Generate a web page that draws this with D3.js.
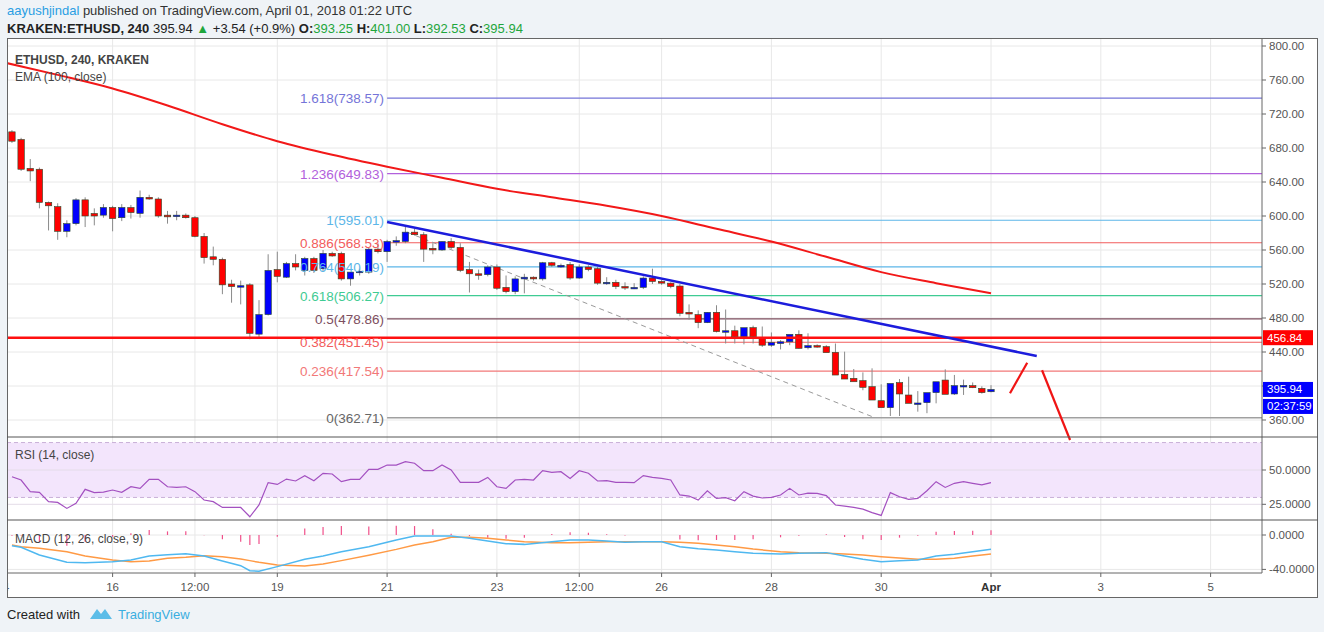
<!DOCTYPE html>
<html>
<head>
<meta charset="utf-8">
<script src="https://cdn.jsdelivr.net/npm/d3@7"></script>
<style>
  body { margin: 0; background: #eff3f7; font-family: "Liberation Sans", Arial, sans-serif; }
</style>
</head>
<body>
<div id="chart"></div>
<script>
// candles, 4h, first one is Mar 14 04:00 UTC, last is Apr 1 00:00 UTC
const opens = [699,690,656,655,616,611,582,591,619,603,601,610,598,610,603,622,620,601,600,601,598,576,552,549,520,518,519,461,484,537,528,544,536,550,538,556,
  556,526,534,534,561,558,570,570,581,578,562,560,570,563,537,532,531,540,516,511,526,528,526,545,540,543,527,540,538,522,522,517,516,516,527,523,
  521,517.6,486.7,484,474.5,486.7,465,465,458,468.6,457,448,450,452,460.8,445,447.5,446.3,439.6,413.7,409,406.3,399.2,382.7,374.5,404,389.4,379.6,380.4,392.2,407,390.6,400.4,400.4,397.2,393.25];
const highs = [701,692,667,657,617,615,595,621,622,609,614,612,614,613,630,625,622,606,606,603,600,580,564,551,525,524,521,501,555,558,546,555,552,552,560,558,
  558,534,538,563,568,572,576,589,585,581,568,570,574,568,546,537,542,543,530,529,532,529,546,546,544,546,543,542,540,528,525,522,521,529,538,525,
  522,520,496,489,487,495,490,471,465,471,470,463,454,454,465.5,462,449,448,450,440.4,420,416,420.8,402,384.8,408.2,411,394,389.4,392.2,419.6,413,407.5,404.2,399.6,401];
const lows = [686,653,641,609,583,572,575,589,587,589,598,582,594,597,598,619,598,591,595,597,575,544,542,508,498,496,455,457,483,522,527,536,530,533,535,552,
  524,518,530,532,556,546,565,568,577,546,555,559,561,534,510,525,529,513,509,508,509,524,524,540,539,525,526,535,519,519,514,513,514,514,520,519,
  515,482,478,468,474,463,450,450,449,450,446,446,443,448,444,443,445,443,438,411,406,395,398,382,364.7,364.7,389.5,369.8,368,379.6,391.4,389.5,389.5,397.5,391,392.53];
const closes = [688,655,653,616,612,582,591,619,600,600,610,597,610,604,622,620,600,599,601,598,576,551,549,519,517,518,462,484,536,529,544,540,550,536,556,553,
  526,534,535,561,558,570,571,581,578,561,560,570,563,536,532,531,540,515,511,526,528,526,545,542,542,527,540,537,521,522,517,516,516,527,523,521,
  517,485.5,484.7,474.5,486.7,464,465,458,468.6,458,448,451,452,460.8,444.3,447.5,446.3,439.2,412.9,408.2,405,398.4,383.5,374.5,403.1,390.6,379.6,380,392.2,405,390.2,400.4,400.6,398,392.2,395.94];

// EMA(100) read once per day, Mar 14 .. Apr 1
const emaDays = ["2018-03-14","2018-03-15","2018-03-16","2018-03-17","2018-03-18","2018-03-19","2018-03-20","2018-03-21","2018-03-22","2018-03-23",
  "2018-03-24","2018-03-25","2018-03-26","2018-03-27","2018-03-28","2018-03-29","2018-03-30","2018-03-31","2018-04-01"];
const emaValues = [781,766,750,730,708,688,672,658,645,632,622,612,600,585,570,552,534,521,509];

// fibonacci levels
const fibRatios = ["1.618","1.236","1","0.886","0.764","0.618","0.5","0.382","0.236","0"];
const fibPrices = [738.57,649.83,595.01,568.53,540.19,506.27,478.86,451.45,417.54,362.71];
const fibColors = ["#7474d8","#b260dc","#5cb6e8","#f25c5c","#5cb6e8","#3fcb93","#7d4e5e","#f25c5c","#f27878","#a0a0a0"];

const supportLevel = 456.84;
const trendDates = ["2018-03-21T00:00Z","2018-04-01T20:00Z"];
const trendPrices = [593,435.3];
const dashDates = ["2018-03-21T08:40Z","2018-03-29T20:00Z"];
const dashPrices = [581,364];
const arrowUpDates = ["2018-04-01T08:18Z","2018-04-01T15:50Z"];
const arrowUpPrices = [391.4,427.4];
const arrowDownDates = ["2018-04-01T22:19Z","2018-04-02T10:34Z"];
const arrowDownPrices = [418.5,336.5];

// RSI(14), one value per candle
const rsiValues = [45.1,42.7,34.2,33.7,26.9,26.4,22.0,25.7,35.9,33.5,
  33.9,35.4,33.7,37.8,36.6,43.2,43.2,37.8,37.3,37.8,
  34.2,28.1,26.9,22.7,22.7,22.7,15.9,24.5,40.8,39.5,
  43.4,42.0,45.9,42.2,47.6,47.1,41.5,43.2,43.2,50.5,
  50.5,53.6,53.6,56.1,54.9,49.5,49.5,53.6,50.0,41.0,
  41.0,41.0,44.6,37.8,36.6,42.7,43.2,42.7,49.5,48.3,
  48.8,43.9,49.5,47.6,42.0,42.2,41.0,41.0,40.8,45.9,
  44.6,43.9,42.7,31.8,31.0,28.1,34.9,29.3,29.8,27.6,
  34.2,31.0,29.6,30.0,31.8,36.6,31.8,33.2,33.0,31.3,
  24.5,23.7,22.7,21.5,18.9,16.9,33.5,30.5,28.6,29.3,
  34.9,41.5,37.3,40.3,41.5,40.3,39.1,40.8];

// MACD(12,26,9) read at these candle indices
const macdIdx = [0,1,3,6,8,11,13,15,17,19,21,23,25,26,27,29,32,34,36,39,42,44,46,48,50,52,54,56,59,61,63,65,67,69,71,73,75,77,79,81,84,86,89,91,93,95,97,99,101,103,105,107];
const macdLine = [-12.4,-14.3,-23.3,-31.8,-32.2,-31.0,-29.1,-24.4,-22.9,-21.7,-24.4,-30.2,-35.7,-41.5,-42.2,-36.8,-28.3,-24.4,-19.4,-13.6,-5.8,-1.2,-1.2,-1.2,-3.9,-7.0,-10.1,-10.9,-7.8,-5.8,-5.8,-7.0,-8.5,-7.8,-7.8,-13.6,-15.9,-17.4,-19.4,-21.3,-22.1,-21.3,-20.5,-24.4,-28.3,-31.0,-29.8,-29.1,-24.4,-22.5,-19.4,-16.7];
const signalLine = [-11.6,-13.6,-15.5,-19.4,-24.4,-29.1,-31.0,-30.2,-27.1,-26.0,-24.0,-25.2,-27.9,-29.8,-31.8,-34.9,-36.0,-33.7,-29.8,-23.6,-16.7,-11.6,-7.8,-2.7,-2.7,-3.9,-5.8,-7.8,-8.9,-8.9,-8.5,-7.8,-7.8,-7.8,-7.8,-8.5,-9.7,-11.6,-13.6,-16.3,-19.4,-20.5,-21.3,-22.1,-23.3,-25.2,-26.7,-28.3,-28.3,-27.1,-24.4,-22.1];

const priceTicks = [360,400,440,480,520,560,600,640,680,720,760,800];
const timeTicks = [
  ["2018-03-14T00:00Z","14"],["2018-03-16T00:00Z","16"],["2018-03-17T12:00Z","12:00"],["2018-03-19T00:00Z","19"],
  ["2018-03-21T00:00Z","21"],["2018-03-23T00:00Z","23"],["2018-03-24T12:00Z","12:00"],["2018-03-26T00:00Z","26"],
  ["2018-03-28T00:00Z","28"],["2018-03-30T00:00Z","30"],["2018-04-01T00:00Z","Apr"],["2018-04-03T00:00Z","3"],["2018-04-05T00:00Z","5"]];

const W = 1324, H = 632;
const L = 7, R = 1262, FR = 1318;
const mainTop = 38, mainBot = 437, rsiBot = 520, macdBot = 573, frameBot = 598;

const svg = d3.select("#chart").append("svg").attr("width", W).attr("height", H)
  .style("font-family", "'Liberation Sans', Arial, sans-serif");

const start = new Date("2018-03-14T00:00Z");
const x = d3.scaleUtc().domain([start, new Date("2018-04-01T00:00Z")]).range([2.8, 991]);
const candleDate = (i) => d3.utcHour.offset(start, 4 * (i + 1));
const y = d3.scaleLinear().domain([360, 800]).range([420, 46]);
const yRsi = d3.scaleLinear().domain([25, 50]).range([504.3, 470]);
const yMacd = d3.scaleLinear().domain([-40, 0]).range([569.4, 535]);

svg.append("rect").attr("x", L).attr("y", mainTop).attr("width", FR - L).attr("height", frameBot - mainTop).attr("fill", "white");

const defs = svg.append("defs");
defs.append("clipPath").attr("id", "clipMain").append("rect").attr("x", L).attr("y", mainTop).attr("width", R - L).attr("height", mainBot - mainTop);
defs.append("clipPath").attr("id", "clipLow").append("rect").attr("x", L).attr("y", mainBot).attr("width", R - L).attr("height", macdBot - mainBot);
defs.append("clipPath").attr("id", "clipAxis").append("rect").attr("x", L + 1).attr("y", macdBot).attr("width", R - L).attr("height", frameBot - macdBot);

// grid
const grid = svg.append("g").attr("clip-path", "url(#clipMain)");
grid.selectAll("line.h").data(priceTicks).join("line")
  .attr("x1", L).attr("x2", R).attr("y1", (d) => y(d)).attr("y2", (d) => y(d)).attr("stroke", "#e8e8e8");
const vgrid = svg.append("g");
vgrid.selectAll("line").data(timeTicks).join("line")
  .attr("x1", (d) => x(new Date(d[0]))).attr("x2", (d) => x(new Date(d[0])))
  .attr("y1", mainTop).attr("y2", macdBot).attr("stroke", "#e8e8e8")
  .attr("display", (d) => x(new Date(d[0])) < L ? "none" : null);

// RSI pane background + grid
const low = svg.append("g").attr("clip-path", "url(#clipLow)");
low.append("rect").attr("x", L).attr("y", yRsi(70)).attr("width", R - L).attr("height", yRsi(30) - yRsi(70)).attr("fill", "#f3e5fc");
[70, 30].forEach((v) => low.append("line").attr("x1", L).attr("x2", R).attr("y1", yRsi(v)).attr("y2", yRsi(v))
  .attr("stroke", "#c9b0d8").attr("stroke-dasharray", "4,3"));
[50, 25].forEach((v) => low.append("line").attr("x1", L).attr("x2", R).attr("y1", yRsi(v)).attr("y2", yRsi(v)).attr("stroke", "#e4dce8"));
[0, -40].forEach((v) => low.append("line").attr("x1", L).attr("x2", R).attr("y1", yMacd(v)).attr("y2", yMacd(v)).attr("stroke", "#e8e8e8"));

const main = svg.append("g").attr("clip-path", "url(#clipMain)");

// fib lines
const fibX0 = x(new Date("2018-03-21T00:00Z"));
fibPrices.forEach((p, i) => {
  main.append("line").attr("x1", fibX0).attr("x2", R).attr("y1", y(p)).attr("y2", y(p))
    .attr("stroke", fibColors[i]).attr("stroke-width", i === 9 ? 1.5 : 1.2);
});

// EMA
main.append("path").datum(emaDays.map((d, i) => [new Date(d + "T00:00Z"), emaValues[i]]))
  .attr("fill", "none").attr("stroke", "#f21818").attr("stroke-width", 2)
  .attr("d", d3.line().curve(d3.curveMonotoneX).x((d) => x(d[0])).y((d) => y(d[1])));

// dashed channel line
main.append("line").attr("x1", x(new Date(dashDates[0]))).attr("y1", y(dashPrices[0]))
  .attr("x2", x(new Date(dashDates[1]))).attr("y2", y(dashPrices[1]))
  .attr("stroke", "#9a9a9a").attr("stroke-dasharray", "5,4");

// candles
const cw = 6.4;
const candles = opens.map((o, i) => ({ t: candleDate(i), o, h: highs[i], l: lows[i], c: closes[i] }));
const cg = main.selectAll("g.candle").data(candles).join("g");
cg.append("line").attr("x1", (d) => x(d.t)).attr("x2", (d) => x(d.t))
  .attr("y1", (d) => y(d.h)).attr("y2", (d) => y(d.l)).attr("stroke", "#8a8a8a");
cg.append("rect")
  .attr("x", (d) => x(d.t) - cw / 2).attr("width", cw)
  .attr("y", (d) => y(Math.max(d.o, d.c)))
  .attr("height", (d) => Math.max(1.5, Math.abs(y(d.o) - y(d.c))))
  .attr("fill", (d) => d.c >= d.o ? "#0000ff" : "#ff0000")
  .attr("stroke", "#2b4a2b").attr("stroke-width", 0.6);

// support line
main.append("line").attr("x1", L).attr("x2", R).attr("y1", y(supportLevel)).attr("y2", y(supportLevel))
  .attr("stroke", "#ff1010").attr("stroke-width", 2.5);

// trend line
main.append("line").attr("x1", x(new Date(trendDates[0]))).attr("y1", y(trendPrices[0]))
  .attr("x2", x(new Date(trendDates[1]))).attr("y2", y(trendPrices[1]))
  .attr("stroke", "#1c1cdc").attr("stroke-width", 2.5);

// fib labels
fibPrices.forEach((p, i) => {
  main.append("text").attr("x", fibX0 - 3).attr("y", y(p) + 5).attr("text-anchor", "end")
    .attr("font-size", 13.5).attr("fill", i === 9 ? "#666" : fibColors[i])
    .text(`${fibRatios[i]}(${p.toFixed(2)})`);
});

// hand-drawn arrows
[[arrowUpDates, arrowUpPrices], [arrowDownDates, arrowDownPrices]].forEach(([ds, ps]) => {
  svg.append("line").attr("x1", x(new Date(ds[0]))).attr("y1", y(ps[0]))
    .attr("x2", x(new Date(ds[1]))).attr("y2", y(ps[1]))
    .attr("stroke", "#f01414").attr("stroke-width", 2.2);
});

// RSI line
low.append("path").datum(rsiValues)
  .attr("fill", "none").attr("stroke", "#a350c0").attr("stroke-width", 1.2)
  .attr("d", d3.line().x((d, i) => x(candleDate(i))).y((d) => yRsi(d)));

// MACD
low.selectAll("line.hist").data(macdIdx).join("line")
  .attr("x1", (d) => x(candleDate(d))).attr("x2", (d) => x(candleDate(d)))
  .attr("y1", yMacd(0)).attr("y2", (d, i) => yMacd(macdLine[i] - signalLine[i]))
  .attr("stroke", "#f0508a").attr("stroke-width", 1.2);
low.append("path").datum(signalLine)
  .attr("fill", "none").attr("stroke", "#ff9a45").attr("stroke-width", 1.5)
  .attr("d", d3.line().x((d, i) => x(candleDate(macdIdx[i]))).y((d) => yMacd(d)));
low.append("path").datum(macdLine)
  .attr("fill", "none").attr("stroke", "#4fb8f0").attr("stroke-width", 1.5)
  .attr("d", d3.line().x((d, i) => x(candleDate(macdIdx[i]))).y((d) => yMacd(d)));

// frame and separators
svg.append("rect").attr("x", L + 0.5).attr("y", mainTop + 0.5).attr("width", FR - L - 1).attr("height", frameBot - mainTop - 1)
  .attr("fill", "none").attr("stroke", "#666");
svg.append("line").attr("x1", R).attr("x2", R).attr("y1", mainTop).attr("y2", macdBot).attr("stroke", "#666");
[mainBot, rsiBot].forEach((v) => svg.append("line").attr("x1", L).attr("x2", FR).attr("y1", v).attr("y2", v).attr("stroke", "#555"));
svg.append("line").attr("x1", L).attr("x2", R).attr("y1", macdBot).attr("y2", macdBot).attr("stroke", "#666");

// price axis
const ax = svg.append("g").attr("font-size", 11.5).attr("fill", "#555");
priceTicks.forEach((p) => {
  ax.append("line").attr("x1", R).attr("x2", R + 4).attr("y1", y(p)).attr("y2", y(p)).attr("stroke", "#666");
  ax.append("text").attr("x", R + 7).attr("y", y(p) + 4).text(p.toFixed(2));
});
[[50, "50.0000"], [25, "25.0000"]].forEach(([v, t]) => {
  ax.append("line").attr("x1", R).attr("x2", R + 4).attr("y1", yRsi(v)).attr("y2", yRsi(v)).attr("stroke", "#666");
  ax.append("text").attr("x", R + 7).attr("y", yRsi(v) + 4).text(t);
});
[[0, "0.0000"], [-40, "-40.0000"]].forEach(([v, t]) => {
  ax.append("line").attr("x1", R).attr("x2", R + 4).attr("y1", yMacd(v)).attr("y2", yMacd(v)).attr("stroke", "#666");
  ax.append("text").attr("x", R + 7).attr("y", yMacd(v) + 4).text(t);
});
function tag(yy, bg, txt) {
  svg.append("rect").attr("x", R + 1).attr("y", yy - 7.5).attr("width", 50).attr("height", 15).attr("fill", bg);
  svg.append("text").attr("x", R + 5).attr("y", yy + 4).attr("font-size", 11.5).attr("fill", "white").text(txt);
}
tag(y(supportLevel), "#ff0000", supportLevel.toFixed(2));
tag(y(closes[closes.length - 1]), "#0000ff", closes[closes.length - 1].toFixed(2));
tag(y(closes[closes.length - 1]) + 17, "#0000ff", "02:37:59");

// time axis
const tx = svg.append("g").attr("font-size", 11.5).attr("fill", "#555").attr("text-anchor", "middle")
  .attr("clip-path", "url(#clipAxis)");
timeTicks.forEach(([d, t]) => {
  const xx = x(new Date(d));
  tx.append("line").attr("x1", xx).attr("x2", xx).attr("y1", macdBot).attr("y2", macdBot + 4).attr("stroke", "#666");
  tx.append("text").attr("x", xx).attr("y", 591).text(t)
    .attr("font-weight", t === "Apr" ? "bold" : null).attr("fill", t === "Apr" ? "#333" : "#555");
});

// legends
svg.append("text").attr("x", 15).attr("y", 64).attr("font-size", 12).attr("font-weight", "bold").attr("fill", "#444").text("ETHUSD, 240, KRAKEN");
svg.append("text").attr("x", 15).attr("y", 81).attr("font-size", 12).attr("fill", "#444").text("EMA (100, close)");
svg.append("text").attr("x", 15).attr("y", 459).attr("font-size", 12).attr("fill", "#444").text("RSI (14, close)");
svg.append("text").attr("x", 15).attr("y", 543).attr("font-size", 12).attr("fill", "#444").text("MACD (12, 26, close, 9)");

// header
const h1 = svg.append("text").attr("x", 7).attr("y", 15).attr("font-size", 13).attr("fill", "#333");
h1.append("tspan").attr("fill", "#2a9ee3").text("aayushjindal");
h1.append("tspan").text(" published on TradingView.com, April 01, 2018 01:22 UTC");
const h2 = svg.append("text").attr("x", 7).attr("y", 33).attr("font-size", 13).attr("fill", "#222");
const green = "#1ea63c";
[["KRAKEN:ETHUSD, 240 ", "bold", null], ["395.94 ", null, null], ["▲", null, green], [" +3.54 (+0.9%) ", null, null],
 ["O:", "bold", null], ["393.25 ", null, green], ["H:", "bold", null], ["401.00 ", null, green],
 ["L:", "bold", null], ["392.53 ", null, green], ["C:", "bold", null], ["395.94", null, green]]
  .forEach(([t, w, c]) => h2.append("tspan").attr("font-weight", w).attr("fill", c).text(t));

// footer
svg.append("text").attr("x", 7).attr("y", 619).attr("font-size", 13).attr("fill", "#222").text("Created with");
svg.append("path").attr("d", "M90,619 l7,-10 l4,5 l4,-5 l7,10 z").attr("fill", "#5cbde8");
svg.append("text").attr("x", 118).attr("y", 619).attr("font-size", 13).attr("fill", "#3aaee0").text("TradingView");
</script>
</body>
</html>
